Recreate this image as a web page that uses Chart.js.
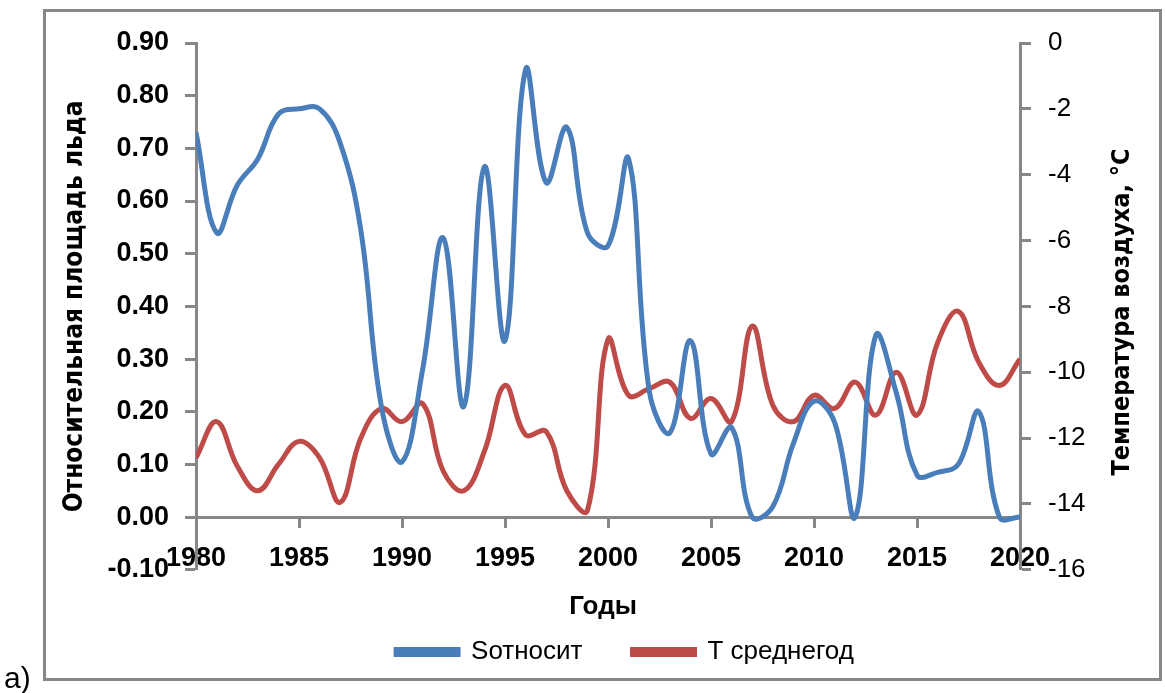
<script src="https://cdn.jsdelivr.net/npm/chart.js@4.4.7/dist/chart.umd.min.js"></script>

<style>
  body {
    margin: 0;
    background: #ffffff;
  }
  .chart-container {
    position: relative;
    width: 1165px;
    height: 693px;
  }
</style>

<div class="chart-container">
  <canvas id="chart"></canvas>
</div>

<script>
  const years = [
    1980, 1981, 1982, 1983, 1984, 1985, 1986, 1987, 1988, 1989,
    1990, 1991, 1992, 1993, 1994, 1995, 1996, 1997, 1998, 1999,
    2000, 2001, 2002, 2003, 2004, 2005, 2006, 2007, 2008, 2009,
    2010, 2011, 2012, 2013, 2014, 2015, 2016, 2017, 2018, 2019,
    2020
  ]

  // относительная площадь льда (левая ось)
  const sOtnosit = [
    0.73, 0.54, 0.63, 0.68, 0.765, 0.775, 0.775, 0.71, 0.545, 0.21,
    0.105, 0.28, 0.53, 0.21, 0.665, 0.335, 0.85, 0.635, 0.74, 0.54,
    0.515, 0.68, 0.24, 0.16, 0.335, 0.12, 0.17, 0.0, 0.02, 0.14,
    0.22, 0.18, 0.0, 0.345, 0.235, 0.08, 0.085, 0.10, 0.20, 0.0,
    0.0
  ]

  // средняя годовая температура воздуха (правая ось)
  const tSrednegod = [
    -12.6, -11.5, -12.85, -13.6, -12.8, -12.1, -12.6, -13.95, -12.0, -11.1,
    -11.5, -10.95, -13.0, -13.6, -12.4, -10.4, -11.9, -11.8, -13.6, -14.2,
    -9.0, -10.7, -10.5, -10.3, -11.4, -10.8, -11.5, -8.6, -11.0, -11.5,
    -10.7, -11.1, -10.3, -11.3, -10.0, -11.3, -9.1, -8.15, -9.7, -10.4,
    -9.6
  ]

  const seriesNames = ['Sотносит', 'Т среднегод']
  const xTitle = 'Годы'
  const yLeftTitle = 'Относительная площадь льда'
  const yRightTitle = 'Температура воздуха, °С'
  const panelLabel = 'а)'

  const axisGray = '#878787'
  const blue = '#4a7ebb'
  const red = '#be4b48'
  const mainFont = "'Liberation Sans', Arial, sans-serif"
  const narrowFont = "'Liberation Sans Narrow', 'DejaVu Sans Condensed', sans-serif"

  // legend: wide gap between the two items, but a short row in the layout
  const legendPad = 50
  const legendRowPad = 17
  const legendFontSize = 26

  Chart.defaults.font.family = mainFont
  Chart.defaults.color = '#000000'

  /*
   * Frame around the chart, the "a)" mark and the right axis title
   * (the right title reads bottom to top, like the left one)
   */
  const framePlugin = {
    id: 'frame',
    afterLayout(chart) {
      // pull the legend row up under the x title and a bit to the right
      const legend = chart.legend
      legend.top -= legendPad - legendRowPad
      legend.height = legendPad + legendFontSize + 10
      legend.bottom = legend.top + legend.height
      legend.left += 22
      legend.right += 22
    },
    beforeDraw(chart) {
      const ctx = chart.ctx
      ctx.save()
      ctx.fillStyle = '#ffffff'
      ctx.fillRect(0, 0, chart.width, chart.height)
      ctx.strokeStyle = axisGray
      ctx.lineWidth = 3
      ctx.strokeRect(44.5, 10.5, 1116, 669)
      ctx.restore()
    },
    afterDraw(chart) {
      const ctx = chart.ctx
      ctx.save()
      ctx.fillStyle = '#000000'
      ctx.font = "30px " + mainFont
      ctx.textBaseline = 'alphabetic'
      ctx.textAlign = 'left'
      ctx.fillText(panelLabel, 4, 688)

      ctx.translate(1122, 312)
      ctx.rotate(-Math.PI / 2)
      ctx.font = "bold 25px " + narrowFont
      ctx.textAlign = 'center'
      ctx.textBaseline = 'middle'
      ctx.fillText(yRightTitle, 0, 0)
      ctx.restore()
    }
  }

  const data = {
    datasets: [
      {
        label: seriesNames[0],
        data: years.map((y, i) => ({ x: y, y: sOtnosit[i] })),
        yAxisID: 'y',
        borderColor: blue,
        backgroundColor: blue,
        borderWidth: 5,
        pointRadius: 0,
        tension: 0.4
      },
      {
        label: seriesNames[1],
        data: years.map((y, i) => ({ x: y, y: tSrednegod[i] })),
        yAxisID: 'y2',
        borderColor: red,
        backgroundColor: red,
        borderWidth: 5,
        pointRadius: 0,
        tension: 0.4
      }
    ]
  }

  const config = {
    type: 'line',
    data: data,
    options: {
      responsive: true,
      maintainAspectRatio: false,
      animation: false,
      layout: {
        padding: { left: 44, right: 3, top: 43, bottom: 18 }
      },
      scales: {
        x: {
          type: 'linear',
          position: { y: 0 },
          min: 1980,
          max: 2020,
          border: { color: axisGray, width: 3 },
          grid: {
            drawOnChartArea: false,
            tickLength: 9,
            tickColor: axisGray,
            tickWidth: 3
          },
          ticks: {
            stepSize: 5,
            padding: 16,
            maxRotation: 0,
            font: { size: 27, weight: 'bold' },
            callback: (v) => String(v)
          }
        },
        y: {
          position: 'left',
          min: -0.1,
          max: 0.9,
          border: { color: axisGray, width: 3 },
          grid: {
            drawOnChartArea: false,
            tickLength: 11,
            tickColor: axisGray,
            tickWidth: 3
          },
          ticks: {
            stepSize: 0.1,
            padding: 16,
            font: { size: 27, weight: 'bold' },
            callback: (v) => v.toFixed(2)
          },
          title: {
            display: true,
            text: yLeftTitle,
            font: { family: narrowFont, size: 26, weight: 'bold' },
            padding: { top: 16, bottom: 0 }
          },
          afterFit: (scale) => {
            scale.width = 152
          }
        },
        y2: {
          position: 'right',
          min: -16,
          max: 0,
          border: { color: axisGray, width: 3 },
          grid: {
            drawOnChartArea: false,
            tickLength: 11,
            tickColor: axisGray,
            tickWidth: 3
          },
          ticks: {
            stepSize: 2,
            padding: 17,
            font: { size: 26 }
          },
          afterFit: (scale) => {
            scale.width = 142
          }
        }
      },
      plugins: {
        title: {
          display: true,
          position: 'bottom',
          text: xTitle,
          weight: 500,
          font: { size: 26, weight: 'bold' },
          padding: { top: 21, bottom: 0 }
        },
        legend: {
          position: 'bottom',
          maxHeight: legendFontSize + legendRowPad + 10,
          labels: {
            boxWidth: 62,
            boxHeight: 5,
            padding: legendPad,
            font: { size: legendFontSize }
          }
        },
        tooltip: { enabled: false }
      }
    },
    plugins: [framePlugin]
  }

  const myChart = new Chart(document.getElementById('chart'), config)
</script>
